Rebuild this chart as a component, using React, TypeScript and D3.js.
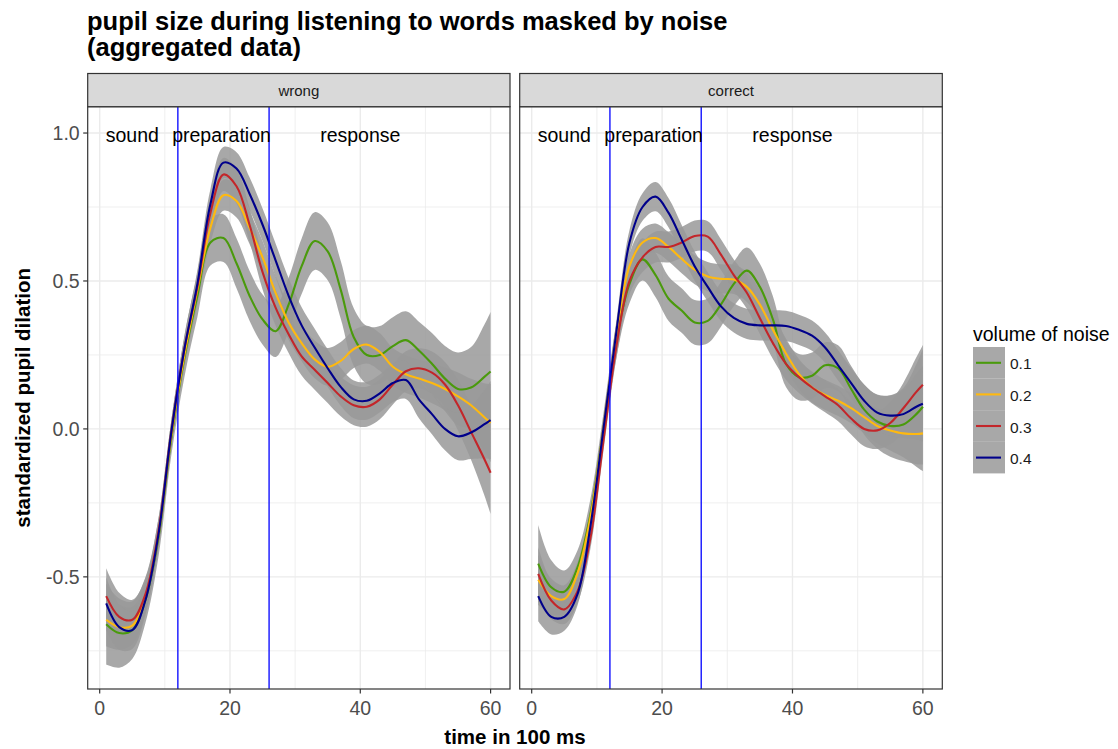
import React from "react";
import * as d3 from "d3";

// Time knots (in 100 ms) at which the smoothed curves are sampled
const timeKnots = [1, 3, 5, 7, 9, 11, 13, 15, 17, 19, 21, 23, 25, 27, 29, 31, 33, 35, 37, 39, 41, 43, 45, 47, 49, 51, 53, 55, 57, 59, 60];

const noiseLevels = ["0.1", "0.2", "0.3", "0.4"];
const noiseColors = ["#4a9a0c", "#ffb90f", "#c3262a", "#00008b"];
// relative width of each noise level's confidence band
const noiseBandScale = [1.3, 0.85, 0.9, 0.85];

// "wrong" trials, smoothed standardized pupil dilation per noise level
const wrongNoise01 = [-0.66, -0.69, -0.68, -0.58, -0.37, -0.03, 0.24, 0.45, 0.63, 0.645, 0.56, 0.45, 0.37, 0.33, 0.42, 0.55, 0.635, 0.60, 0.47, 0.31, 0.25, 0.25, 0.28, 0.30, 0.265, 0.22, 0.17, 0.135, 0.14, 0.175, 0.194];
const wrongNoise02 = [-0.645, -0.67, -0.665, -0.57, -0.36, -0.02, 0.25, 0.47, 0.68, 0.79, 0.77, 0.68, 0.58, 0.46, 0.36, 0.29, 0.235, 0.21, 0.23, 0.27, 0.285, 0.26, 0.21, 0.185, 0.17, 0.155, 0.135, 0.11, 0.08, 0.04, 0.02];
const wrongNoise03 = [-0.565, -0.635, -0.645, -0.56, -0.35, -0.01, 0.27, 0.48, 0.73, 0.86, 0.82, 0.69, 0.53, 0.41, 0.32, 0.245, 0.20, 0.155, 0.11, 0.08, 0.075, 0.10, 0.15, 0.195, 0.205, 0.19, 0.15, 0.08, -0.01, -0.10, -0.148];
const wrongNoise04 = [-0.59, -0.67, -0.68, -0.58, -0.36, -0.01, 0.27, 0.49, 0.76, 0.90, 0.88, 0.795, 0.69, 0.57, 0.45, 0.35, 0.275, 0.205, 0.142, 0.10, 0.095, 0.12, 0.155, 0.165, 0.10, 0.05, 0.0, -0.025, -0.012, 0.015, 0.03];
// base half-width of the confidence band for the "wrong" panel
const wrongBand = [0.105, 0.09, 0.075, 0.06, 0.05, 0.045, 0.05, 0.055, 0.06, 0.062, 0.065, 0.065, 0.065, 0.067, 0.07, 0.072, 0.075, 0.075, 0.075, 0.075, 0.075, 0.075, 0.075, 0.075, 0.075, 0.08, 0.085, 0.095, 0.105, 0.135, 0.155];

// "correct" trials
const correctNoise01 = [-0.455, -0.535, -0.55, -0.47, -0.29, 0.0, 0.30, 0.49, 0.573, 0.52, 0.44, 0.40, 0.36, 0.365, 0.42, 0.49, 0.535, 0.48, 0.37, 0.22, 0.175, 0.18, 0.215, 0.205, 0.135, 0.065, 0.025, 0.01, 0.015, 0.05, 0.075];
const correctNoise02 = [-0.51, -0.565, -0.575, -0.49, -0.30, 0.0, 0.32, 0.55, 0.63, 0.645, 0.615, 0.575, 0.538, 0.515, 0.507, 0.505, 0.48, 0.42, 0.335, 0.255, 0.185, 0.14, 0.115, 0.095, 0.07, 0.04, 0.01, -0.005, -0.015, -0.017, -0.015];
const correctNoise03 = [-0.49, -0.58, -0.61, -0.55, -0.37, -0.04, 0.28, 0.50, 0.58, 0.615, 0.615, 0.63, 0.652, 0.65, 0.59, 0.52, 0.46, 0.374, 0.29, 0.22, 0.175, 0.14, 0.11, 0.08, 0.035, 0.0, -0.005, 0.02, 0.07, 0.125, 0.149];
const correctNoise04 = [-0.565, -0.635, -0.635, -0.56, -0.33, 0.0, 0.33, 0.63, 0.75, 0.785, 0.73, 0.64, 0.55, 0.48, 0.415, 0.375, 0.355, 0.35, 0.35, 0.348, 0.335, 0.315, 0.275, 0.215, 0.155, 0.095, 0.055, 0.045, 0.05, 0.075, 0.085];
const correctBand = [0.10, 0.07, 0.055, 0.045, 0.04, 0.04, 0.045, 0.05, 0.055, 0.058, 0.058, 0.058, 0.058, 0.058, 0.058, 0.058, 0.06, 0.06, 0.06, 0.06, 0.06, 0.06, 0.06, 0.06, 0.06, 0.065, 0.07, 0.08, 0.095, 0.13, 0.15];

const facetNames = ["wrong", "correct"];
const facetSeries = [
  [wrongNoise01, wrongNoise02, wrongNoise03, wrongNoise04],
  [correctNoise01, correctNoise02, correctNoise03, correctNoise04],
];
const facetBands = [wrongBand, correctBand];

// Phase boundaries and labels
const phaseBounds = [12, 26];
const phaseLabels = ["sound", "preparation", "response"];
const phaseLabelTimes = [5, 18.7, 40];
const phaseLabelLevel = 1.0;

const xTicks = [0, 20, 40, 60];
const xMinorTicks = [10, 30, 50];
const yTicks = [-0.5, 0, 0.5, 1.0];
const yMinorTicks = [-0.75, -0.25, 0.25, 0.75];

const W = 1118;
const H = 749;
const FONT = "'Liberation Sans', Arial, Helvetica, sans-serif";

const panelTop = 106.7;
const panelBottom = 689;
const stripTop = 73.5;
const panelXs: [number, number][] = [
  [87.7, 510],
  [519.7, 942.3],
];

const yScale = d3.scaleLinear().domain([-0.879, 1.089]).range([panelBottom, panelTop]);

function Panel({ idx }: { idx: number }) {
  const [x0, x1] = panelXs[idx];
  const xScale = d3.scaleLinear().domain([-1.84, 62.98]).range([x0, x1]);
  const band = facetBands[idx];
  const clipId = `clip-${idx}`;
  const curve = d3.curveCatmullRom.alpha(0.5);

  const area = (vals: number[], k: number) =>
    d3
      .area<number>()
      .x((_, i) => xScale(timeKnots[i]))
      .y0((v, i) => yScale(v - band[i] * k))
      .y1((v, i) => yScale(v + band[i] * k))
      .curve(curve)(vals) || "";
  const line = (vals: number[]) =>
    d3
      .line<number>()
      .x((_, i) => xScale(timeKnots[i]))
      .y((v) => yScale(v))
      .curve(curve)(vals) || "";

  const series = facetSeries[idx];

  return (
    <g>
      <defs>
        <clipPath id={clipId}>
          <rect x={x0} y={panelTop} width={x1 - x0} height={panelBottom - panelTop} />
        </clipPath>
      </defs>
      <rect x={x0} y={panelTop} width={x1 - x0} height={panelBottom - panelTop} fill="#ffffff" />
      {/* grid */}
      {xMinorTicks.map((t) => (
        <line key={`xm${t}`} x1={xScale(t)} x2={xScale(t)} y1={panelTop} y2={panelBottom} stroke="#ebebeb" strokeWidth={0.8} />
      ))}
      {yMinorTicks.map((t) => (
        <line key={`ym${t}`} x1={x0} x2={x1} y1={yScale(t)} y2={yScale(t)} stroke="#ebebeb" strokeWidth={0.8} />
      ))}
      {xTicks.map((t) => (
        <line key={`xg${t}`} x1={xScale(t)} x2={xScale(t)} y1={panelTop} y2={panelBottom} stroke="#ebebeb" strokeWidth={1.4} />
      ))}
      {yTicks.map((t) => (
        <line key={`yg${t}`} x1={x0} x2={x1} y1={yScale(t)} y2={yScale(t)} stroke="#ebebeb" strokeWidth={1.4} />
      ))}
      <g clipPath={`url(#${clipId})`}>
        {/* confidence bands */}
        {series.map((vals, s) => (
          <path key={`band${s}`} d={area(vals, noiseBandScale[s])} fill="#999999" fillOpacity={0.85} stroke="none" />
        ))}
        {/* smoothed curves */}
        {series.map((vals, s) => (
          <path key={`line${s}`} d={line(vals)} fill="none" stroke={noiseColors[s]} strokeWidth={2.1} />
        ))}
        {phaseBounds.map((t) => (
          <line key={`pb${t}`} x1={xScale(t)} x2={xScale(t)} y1={panelTop} y2={panelBottom} stroke="#0000ff" strokeWidth={1.3} />
        ))}
      </g>
      {phaseLabels.map((lab, i) => (
        <text
          key={lab}
          x={xScale(phaseLabelTimes[i])}
          y={yScale(phaseLabelLevel) + 2}
          textAnchor="middle"
          dominantBaseline="central"
          fontFamily={FONT}
          fontSize={19.5}
          fill="#000000"
        >
          {lab}
        </text>
      ))}
      <rect x={x0} y={panelTop} width={x1 - x0} height={panelBottom - panelTop} fill="none" stroke="#333333" strokeWidth={1.2} />
      {/* strip */}
      <rect x={x0} y={stripTop} width={x1 - x0} height={panelTop - stripTop} fill="#d9d9d9" stroke="#333333" strokeWidth={1.2} />
      <text
        x={(x0 + x1) / 2}
        y={(stripTop + panelTop) / 2}
        textAnchor="middle"
        dominantBaseline="central"
        fontFamily={FONT}
        fontSize={15}
        fill="#1a1a1a"
      >
        {facetNames[idx]}
      </text>
      {/* x axis */}
      {xTicks.map((t) => (
        <g key={`xt${t}`}>
          <line x1={xScale(t)} x2={xScale(t)} y1={panelBottom} y2={panelBottom + 4.5} stroke="#333333" strokeWidth={1.2} />
          <text x={xScale(t)} y={panelBottom + 26} textAnchor="middle" fontFamily={FONT} fontSize={19.5} fill="#4d4d4d">
            {t}
          </text>
        </g>
      ))}
    </g>
  );
}

export default function App() {
  const legendX = 973;
  const keyTop = 347;
  const keyH = 31.6;
  const keyW = 32;
  return (
    <svg
      width={W}
      height={H}
      viewBox={`0 0 ${W} ${H}`}
      style={{ position: "absolute", left: 0, top: 0, background: "#ffffff" }}
    >
      <rect x={0} y={0} width={W} height={H} fill="#ffffff" />
      <text fontFamily={FONT} fontWeight="bold" fontSize={25.5} fill="#000000">
        <tspan x={87} y={30}>pupil size during listening to words masked by noise</tspan>
        <tspan x={87} y={56}>(aggregated data)</tspan>
      </text>

      {facetNames.map((_, i) => (
        <Panel key={i} idx={i} />
      ))}

      {/* y axis (left panel only) */}
      {yTicks.map((t) => (
        <g key={`yt${t}`}>
          <line x1={panelXs[0][0] - 4.5} x2={panelXs[0][0]} y1={yScale(t)} y2={yScale(t)} stroke="#333333" strokeWidth={1.2} />
          <text
            x={panelXs[0][0] - 8}
            y={yScale(t)}
            textAnchor="end"
            dominantBaseline="central"
            fontFamily={FONT}
            fontSize={19.5}
            fill="#4d4d4d"
          >
            {t.toFixed(1)}
          </text>
        </g>
      ))}

      <text
        transform={`translate(22, ${(panelTop + panelBottom) / 2}) rotate(-90)`}
        textAnchor="middle"
        dominantBaseline="central"
        fontFamily={FONT}
        fontWeight="bold"
        fontSize={20.5}
        fill="#000000"
      >
        standardized pupil dilation
      </text>
      <text
        x={(panelXs[0][0] + panelXs[1][1]) / 2}
        y={744}
        textAnchor="middle"
        fontFamily={FONT}
        fontWeight="bold"
        fontSize={20.5}
        fill="#000000"
      >
        time in 100 ms
      </text>

      {/* legend */}
      <text x={legendX} y={341} fontFamily={FONT} fontSize={19.5} fill="#000000">
        volume of noise
      </text>
      {noiseLevels.map((lab, i) => {
        const cy = keyTop + keyH * i + keyH / 2;
        return (
          <g key={lab}>
            <rect x={legendX} y={keyTop + keyH * i} width={keyW} height={keyH} fill="#999999" fillOpacity={0.85} />
            <line x1={legendX + 3} x2={legendX + keyW - 4} y1={cy} y2={cy} stroke={noiseColors[i]} strokeWidth={2.1} />
            <text x={legendX + keyW + 5} y={cy + 1} dominantBaseline="central" fontFamily={FONT} fontSize={15.5} fill="#1a1a1a">
              {lab}
            </text>
          </g>
        );
      })}
    </svg>
  );
}
